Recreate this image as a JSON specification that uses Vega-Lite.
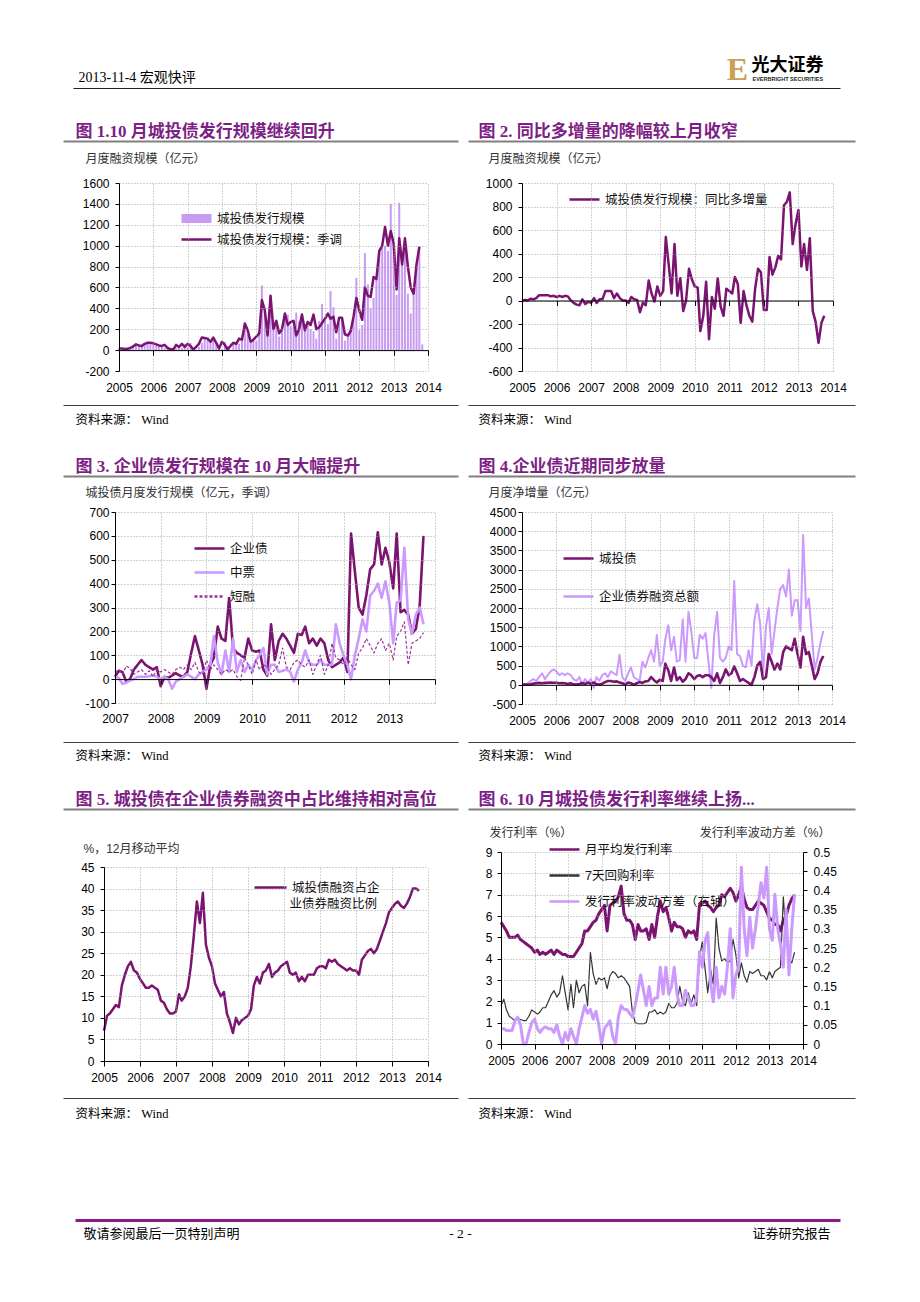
{
"$schema":"https://vega.github.io/schema/vega-lite/v6.json",
"width":920,"height":1302,"padding":0,"autosize":{"type":"none"},"background":"white",
"config":{
 "view":{"stroke":null},
 "axis":{"labelFont":"Liberation Sans","labelFontSize":12,"labelColor":"#000","labelOverlap":false,"labelFlush":false,"domainColor":"#000","tickColor":"#000","tickSize":4,"gridColor":"#a6a6a6","gridDash":[1,2],"gridWidth":1,"titleFont":"Liberation Sans, Noto Sans CJK SC","titleFontSize":12,"titleFontWeight":"normal","titleColor":"#333","titleAngle":0,"titleAlign":"left","titleBaseline":"middle","titleLimit":2000},
 "legend":{"orient":"none","labelFont":"Liberation Sans, Noto Sans CJK SC","labelFontSize":12.5,"labelColor":"#111","labelLimit":400,"padding":0,"symbolStrokeWidth":2.5,"symbolSize":900,"labelOffset":4,"rowPadding":1},
 "line":{"strokeJoin":"round"}
},
"datasets":{
"fr":[{"u":0},{"u":1}],
"m":[
{"d":"2005-01","b":20,"s":15,"y":0,"c":10,"t":0,"q":7,"r":5.7,"p":1.8,"v":0.04},
{"d":"2005-02","b":10,"s":15,"y":5,"c":5,"t":-10,"q":10.5,"r":5.5,"p":2.1,"v":0.04},
{"d":"2005-03","b":5,"s":10,"y":0,"c":5,"t":30,"q":11,"r":5.3,"p":1.6,"v":0.035},
{"d":"2005-04","b":15,"s":12,"y":15,"c":15,"t":100,"q":12,"r":5.0,"p":1.3,"v":0.035},
{"d":"2005-05","b":30,"s":20,"y":10,"c":30,"t":150,"q":13,"r":5.0,"p":1.2,"v":0.035},
{"d":"2005-06","b":45,"s":35,"y":20,"c":40,"t":100,"q":12.5,"r":5.0,"p":1.1,"v":0.06},
{"d":"2005-07","b":60,"s":55,"y":45,"c":50,"t":200,"q":17.5,"r":5.1,"p":1.2,"v":0.07},
{"d":"2005-08","b":40,"s":45,"y":45,"c":40,"t":300,"q":20,"r":4.9,"p":1.15,"v":0.05},
{"d":"2005-09","b":50,"s":40,"y":45,"c":50,"t":150,"q":22,"r":4.8,"p":1.1,"v":0},
{"d":"2005-10","b":60,"s":60,"y":45,"c":55,"t":250,"q":23,"r":4.7,"p":1.1,"v":0},
{"d":"2005-11","b":70,"s":70,"y":35,"c":60,"t":350,"q":21,"r":4.6,"p":1.3,"v":0.03},
{"d":"2005-12","b":60,"s":70,"y":40,"c":55,"t":400,"q":20.5,"r":4.5,"p":1.6,"v":0.055},
{"d":"2006-01","b":55,"s":65,"y":30,"c":55,"t":350,"q":19,"r":4.3,"p":1.5,"v":0.065},
{"d":"2006-02","b":40,"s":55,"y":40,"c":40,"t":250,"q":18,"r":4.4,"p":1.4,"v":0.04},
{"d":"2006-03","b":50,"s":45,"y":30,"c":45,"t":300,"q":17,"r":4.2,"p":1.5,"v":0.03},
{"d":"2006-04","b":45,"s":40,"y":40,"c":40,"t":250,"q":17,"r":4.3,"p":1.7,"v":0.04},
{"d":"2006-05","b":20,"s":50,"y":35,"c":20,"t":300,"q":17.5,"r":4.2,"p":1.7,"v":0.045},
{"d":"2006-06","b":40,"s":20,"y":0,"c":40,"t":250,"q":17,"r":4.3,"p":2.0,"v":0.04},
{"d":"2006-07","b":10,"s":10,"y":-20,"c":10,"t":150,"q":16.5,"r":4.4,"p":2.3,"v":0.04},
{"d":"2006-08","b":5,"s":5,"y":-35,"c":5,"t":100,"q":14,"r":4.2,"p":2.5,"v":0.03},
{"d":"2006-09","b":20,"s":50,"y":-40,"c":20,"t":200,"q":13.5,"r":4.4,"p":2.2,"v":0.05},
{"d":"2006-10","b":50,"s":30,"y":10,"c":45,"t":0,"q":12,"r":4.3,"p":2.4,"v":0.02},
{"d":"2006-11","b":20,"s":60,"y":-30,"c":20,"t":150,"q":11,"r":4.2,"p":3.2,"v":0},
{"d":"2006-12","b":60,"s":30,"y":-10,"c":55,"t":50,"q":11,"r":4.2,"p":2.4,"v":0.03},
{"d":"2007-01","b":30,"s":60,"y":-20,"c":30,"t":150,"q":11.5,"r":4.1,"p":1.6,"v":0.01,"e":10,"z":10,"f":30},
{"d":"2007-02","b":70,"s":40,"y":20,"c":60,"t":-80,"q":15.5,"r":4.1,"p":2.8,"v":0.04,"e":35,"z":5,"f":40},
{"d":"2007-03","b":20,"s":5,"y":-20,"c":20,"t":200,"q":14,"r":4.1,"p":1.7,"v":0.02,"e":30,"z":-20,"f":20},
{"d":"2007-04","b":5,"s":30,"y":10,"c":5,"t":100,"q":15,"r":4.3,"p":3.0,"v":0,"e":-10,"z":-15,"f":55},
{"d":"2007-05","b":30,"s":60,"y":10,"c":30,"t":250,"q":17,"r":4.5,"p":2.4,"v":0.04,"e":0,"z":-5,"f":45},
{"d":"2007-06","b":70,"s":120,"y":80,"c":70,"t":300,"q":22,"r":4.7,"p":2.7,"v":0.07,"e":40,"z":0,"f":20},
{"d":"2007-07","b":110,"s":115,"y":80,"c":100,"t":200,"q":29,"r":5.3,"p":2.8,"v":0.1,"e":60,"z":10,"f":30},
{"d":"2007-08","b":120,"s":110,"y":80,"c":100,"t":350,"q":37,"r":5.3,"p":1.8,"v":0.08,"e":80,"z":10,"f":40},
{"d":"2007-09","b":80,"s":80,"y":20,"c":80,"t":300,"q":32,"r":5.5,"p":4.3,"v":0.09,"e":60,"z":10,"f":20},
{"d":"2007-10","b":110,"s":120,"y":60,"c":90,"t":250,"q":39,"r":5.7,"p":3.3,"v":0.065,"e":50,"z":12,"f":35},
{"d":"2007-11","b":60,"s":70,"y":20,"c":60,"t":780,"q":27,"r":5.8,"p":2.8,"v":0.085,"e":40,"z":15,"f":10},
{"d":"2007-12","b":40,"s":15,"y":0,"c":40,"t":200,"q":24,"r":6.1,"p":3.1,"v":0.05,"e":50,"z":10,"f":40},
{"d":"2008-01","b":10,"s":80,"y":0,"c":10,"t":100,"q":22,"r":6.3,"p":3.0,"v":0,"e":-30,"z":0,"f":30},
{"d":"2008-02","b":80,"s":50,"y":-20,"c":60,"t":300,"q":18,"r":6.5,"p":3.1,"v":0.04,"e":10,"z":10,"f":40},
{"d":"2008-03","b":40,"s":5,"y":30,"c":40,"t":450,"q":16.5,"r":5.3,"p":2.6,"v":0.05,"e":5,"z":0,"f":30},
{"d":"2008-04","b":5,"s":40,"y":10,"c":5,"t":200,"q":15,"r":6.5,"p":3.2,"v":0.06,"e":15,"z":-40,"f":20},
{"d":"2008-05","b":50,"s":70,"y":5,"c":40,"t":150,"q":16,"r":6.6,"p":3.4,"v":0.02,"e":25,"z":-10,"f":40},
{"d":"2008-06","b":80,"s":60,"y":-100,"c":70,"t":100,"q":11,"r":6.7,"p":3.3,"v":0,"e":15,"z":0,"f":50},
{"d":"2008-07","b":60,"s":110,"y":-20,"c":50,"t":600,"q":9,"r":6.9,"p":3.1,"v":0.07,"e":10,"z":10,"f":40},
{"d":"2008-08","b":100,"s":100,"y":-40,"c":90,"t":450,"q":6.5,"r":7.4,"p":3.2,"v":0.1,"e":30,"z":20,"f":60},
{"d":"2008-09","b":250,"s":255,"y":170,"c":100,"t":700,"q":10,"r":6.1,"p":3.1,"v":0.09,"e":110,"z":10,"f":40},
{"d":"2008-10","b":150,"s":190,"y":60,"c":200,"t":900,"q":8.5,"r":5.8,"p":2.9,"v":0.09,"e":180,"z":0,"f":70},
{"d":"2008-11","b":70,"s":80,"y":-10,"c":120,"t":600,"q":9.5,"r":5.8,"p":2.7,"v":0.08,"e":120,"z":20,"f":30},
{"d":"2008-12","b":90,"s":100,"y":120,"c":60,"t":1300,"q":10,"r":5.6,"p":1.5,"v":0.07,"e":60,"z":30,"f":20},
{"d":"2009-01","b":90,"s":130,"y":40,"c":130,"t":500,"q":10.5,"r":4.9,"p":1.0,"v":0.1,"e":-40,"z":40,"f":80},
{"d":"2009-02","b":170,"s":160,"y":80,"c":100,"t":600,"q":12,"r":5.6,"p":0.95,"v":0.14,"e":60,"z":60,"f":40},
{"d":"2009-03","b":620,"s":480,"y":540,"c":550,"t":1200,"q":17.5,"r":5.3,"p":0.95,"v":0.18,"e":90,"z":180,"f":60},
{"d":"2009-04","b":400,"s":380,"y":300,"c":380,"t":1550,"q":19.5,"r":5.3,"p":0.95,"v":0.14,"e":220,"z":70,"f":40},
{"d":"2009-05","b":170,"s":140,"y":60,"c":100,"t":900,"q":18,"r":5.4,"p":1.0,"v":0.1,"e":170,"z":20,"f":20},
{"d":"2009-06","b":520,"s":520,"y":480,"c":450,"t":1250,"q":20.5,"r":4.9,"p":1.5,"v":0.15,"e":160,"z":120,"f":40},
{"d":"2009-07","b":190,"s":200,"y":40,"c":120,"t":600,"q":21,"r":5.6,"p":1.5,"v":0.1,"e":340,"z":30,"f":30},
{"d":"2009-08","b":250,"s":280,"y":190,"c":200,"t":650,"q":22.5,"r":5.0,"p":1.6,"v":0.12,"e":130,"z":170,"f":40},
{"d":"2009-09","b":130,"s":160,"y":-90,"c":80,"t":1700,"q":19.5,"r":6.0,"p":1.4,"v":0.12,"e":110,"z":30,"f":10},
{"d":"2009-10","b":200,"s":200,"y":0,"c":150,"t":600,"q":20.5,"r":6.7,"p":1.5,"v":0.2,"e":100,"z":80,"f":-5},
{"d":"2009-11","b":330,"s":350,"y":270,"c":300,"t":1900,"q":21,"r":6.2,"p":1.4,"v":0.13,"e":90,"z":30,"f":90},
{"d":"2009-12","b":340,"s":240,"y":180,"c":250,"t":1400,"q":22,"r":6.4,"p":1.5,"v":0.2,"e":170,"z":60,"f":60},
{"d":"2010-01","b":230,"s":270,"y":120,"c":150,"t":700,"q":22.5,"r":5.9,"p":1.9,"v":0.13,"e":120,"z":40,"f":20},
{"d":"2010-02","b":220,"s":280,"y":110,"c":230,"t":700,"q":23,"r":5.3,"p":1.7,"v":0.15,"e":115,"z":80,"f":80},
{"d":"2010-03","b":360,"s":140,"y":-260,"c":250,"t":1300,"q":20.5,"r":5.7,"p":1.7,"v":0.2,"e":120,"z":100,"f":40},
{"d":"2010-04","b":280,"s":200,"y":-130,"c":200,"t":1200,"q":20,"r":5.5,"p":1.9,"v":0.13,"e":40,"z":130,"f":60},
{"d":"2010-05","b":330,"s":340,"y":160,"c":250,"t":1350,"q":20.5,"r":5.5,"p":2.7,"v":0.1,"e":15,"z":20,"f":50},
{"d":"2010-06","b":250,"s":190,"y":-330,"c":250,"t":600,"q":18.5,"r":5.4,"p":2.0,"v":0.1,"e":230,"z":60,"f":20},
{"d":"2010-07","b":240,"s":270,"y":30,"c":200,"t":-80,"q":19.5,"r":5.0,"p":1.8,"v":0.14,"e":80,"z":60,"f":40},
{"d":"2010-08","b":200,"s":240,"y":-70,"c":100,"t":1300,"q":18.5,"r":5.3,"p":2.4,"v":0.12,"e":160,"z":30,"f":60},
{"d":"2010-09","b":180,"s":340,"y":190,"c":300,"t":1900,"q":20,"r":5.2,"p":1.9,"v":0.1,"e":190,"z":35,"f":130},
{"d":"2010-10","b":110,"s":200,"y":-50,"c":50,"t":700,"q":20,"r":5.3,"p":2.3,"v":0.1,"e":170,"z":40,"f":50},
{"d":"2010-11","b":280,"s":220,"y":-130,"c":200,"t":600,"q":20,"r":4.9,"p":1.8,"v":0.12,"e":140,"z":30,"f":40},
{"d":"2010-12","b":440,"s":260,"y":100,"c":400,"t":700,"q":21.5,"r":6.5,"p":4.0,"v":0.24,"e":110,"z":-10,"f":70},
{"d":"2011-01","b":300,"s":300,"y":80,"c":250,"t":1000,"q":22,"r":6.6,"p":4.8,"v":0.2,"e":190,"z":40,"f":80},
{"d":"2011-02","b":250,"s":350,"y":60,"c":300,"t":900,"q":22,"r":6.7,"p":3.5,"v":0.27,"e":185,"z":70,"f":60},
{"d":"2011-03","b":565,"s":300,"y":200,"c":480,"t":2700,"q":21.5,"r":6.5,"p":2.4,"v":0.29,"e":220,"z":120,"f":50},
{"d":"2011-04","b":410,"s":320,"y":140,"c":300,"t":800,"q":23.5,"r":6.4,"p":3.5,"v":0.16,"e":150,"z":70,"f":80},
{"d":"2011-05","b":110,"s":170,"y":-190,"c":100,"t":750,"q":23,"r":6.2,"p":2.8,"v":0.11,"e":170,"z":60,"f":20},
{"d":"2011-06","b":260,"s":310,"y":80,"c":150,"t":500,"q":23.5,"r":6.4,"p":5.9,"v":0.2,"e":140,"z":60,"f":60},
{"d":"2011-07","b":310,"s":310,"y":-40,"c":100,"t":450,"q":22.5,"r":6.5,"p":4.5,"v":0.12,"e":170,"z":80,"f":100},
{"d":"2011-08","b":90,"s":150,"y":-130,"c":50,"t":900,"q":22,"r":7.0,"p":3.9,"v":0.15,"e":150,"z":60,"f":20},
{"d":"2011-09","b":150,"s":140,"y":-180,"c":0,"t":500,"q":21.5,"r":6.9,"p":4.0,"v":0.13,"e":80,"z":60,"f":60},
{"d":"2011-10","b":200,"s":180,"y":100,"c":200,"t":1700,"q":21,"r":7.1,"p":3.8,"v":0.2,"e":50,"z":60,"f":150},
{"d":"2011-11","b":300,"s":320,"y":270,"c":500,"t":2100,"q":21.5,"r":7.3,"p":3.9,"v":0.3,"e":60,"z":230,"f":90},
{"d":"2011-12","b":690,"s":500,"y":240,"c":600,"t":1600,"q":21,"r":7.1,"p":4.9,"v":0.12,"e":70,"z":150,"f":80},
{"d":"2012-01","b":190,"s":380,"y":-80,"c":150,"t":300,"q":21,"r":6.7,"p":4.2,"v":0.18,"e":90,"z":100,"f":60},
{"d":"2012-02","b":240,"s":290,"y":-80,"c":200,"t":1500,"q":20,"r":7.0,"p":3.1,"v":0.2,"e":30,"z":60,"f":90},
{"d":"2012-03","b":930,"s":600,"y":370,"c":800,"t":2000,"q":23.5,"r":7.4,"p":3.8,"v":0.46,"e":610,"z":0,"f":60},
{"d":"2012-04","b":630,"s":520,"y":220,"c":600,"t":800,"q":24.5,"r":6.8,"p":3.2,"v":0.3,"e":450,"z":100,"f":40},
{"d":"2012-05","b":400,"s":510,"y":280,"c":400,"t":1400,"q":25.5,"r":6.4,"p":2.9,"v":0.23,"e":300,"z":170,"f":110},
{"d":"2012-06","b":500,"s":700,"y":380,"c":550,"t":2000,"q":26,"r":6.3,"p":3.4,"v":0.33,"e":270,"z":250,"f":130},
{"d":"2012-07","b":680,"s":680,"y":350,"c":400,"t":2500,"q":25,"r":6.3,"p":3.3,"v":0.25,"e":350,"z":200,"f":170},
{"d":"2012-08","b":940,"s":950,"y":810,"c":850,"t":2600,"q":26,"r":6.5,"p":3.4,"v":0.3,"e":460,"z":350,"f":140},
{"d":"2012-09","b":980,"s":1000,"y":840,"c":1000,"t":2300,"q":28,"r":6.7,"p":3.5,"v":0.36,"e":480,"z":370,"f":110},
{"d":"2012-10","b":1000,"s":1180,"y":920,"c":950,"t":3000,"q":30,"r":6.6,"p":3.2,"v":0.42,"e":615,"z":400,"f":150},
{"d":"2012-11","b":950,"s":1000,"y":480,"c":900,"t":1800,"q":32,"r":6.5,"p":3.2,"v":0.38,"e":480,"z":340,"f":170},
{"d":"2012-12","b":1400,"s":1140,"y":650,"c":1200,"t":2200,"q":34.5,"r":6.2,"p":3.0,"v":0.46,"e":550,"z":410,"f":120},
{"d":"2013-01","b":1020,"s":1020,"y":770,"c":800,"t":2200,"q":35.5,"r":5.9,"p":3.4,"v":0.3,"e":490,"z":320,"f":150},
{"d":"2013-02","b":530,"s":580,"y":290,"c":450,"t":1400,"q":36.5,"r":5.8,"p":3.1,"v":0.27,"e":380,"z":150,"f":80},
{"d":"2013-03","b":1410,"s":1070,"y":480,"c":1250,"t":3900,"q":37,"r":5.6,"p":3.4,"v":0.39,"e":610,"z":320,"f":180},
{"d":"2013-04","b":820,"s":820,"y":260,"c":800,"t":2000,"q":36,"r":5.6,"p":3.5,"v":0.3,"e":280,"z":330,"f":200},
{"d":"2013-05","b":1000,"s":1070,"y":530,"c":850,"t":2250,"q":35.5,"r":5.3,"p":3.6,"v":0.26,"e":290,"z":550,"f":240},
{"d":"2013-06","b":540,"s":800,"y":-90,"c":500,"t":1300,"q":36.5,"r":5.8,"p":6.9,"v":0.2,"e":270,"z":250,"f":60},
{"d":"2013-07","b":350,"s":600,"y":-180,"c":150,"t":400,"q":38,"r":6.0,"p":5.0,"v":0.35,"e":190,"z":190,"f":150},
{"d":"2013-08","b":560,"s":540,"y":-360,"c":300,"t":700,"q":40,"r":6.5,"p":4.0,"v":0.18,"e":210,"z":270,"f":160},
{"d":"2013-09","b":800,"s":820,"y":-190,"c":600,"t":1100,"q":40,"r":6.8,"p":3.8,"v":0.3,"e":310,"z":300,"f":170},
{"d":"2013-10","b":990,"s":990,"y":-130,"c":750,"t":1400,"q":39.5,"r":7.0,"p":4.3,"v":0.39,"e":600,"z":230,"f":195},
{"d":"2013-11","b":55}
]},
"data":{"name":"m"},
"resolve":{"scale":{"x":"independent","y":"independent","color":"independent","stroke":"independent","strokeDash":"independent"},"axis":{"x":"independent","y":"independent"},"legend":{"color":"independent","stroke":"independent","strokeDash":"independent"}},
"layer":[
{"data":{"name":"fr"},"mark":{"type":"point","opacity":0},"encoding":{
 "x":{"field":"u","type":"quantitative","scale":{"domain":[0,1],"range":[73,840],"nice":false},"axis":{"orient":"top","offset":-88,"domain":true,"domainColor":"#222","domainWidth":1.2,"labels":false,"ticks":false,"grid":false,"title":"2013-11-4 宏观快评","titleX":78,"titleY":-11,"titleFont":"Liberation Serif, Noto Sans CJK SC","titleFontSize":14,"titleColor":"#000"}},
 "y":{"field":"u","type":"quantitative","scale":{"domain":[0,1],"nice":false},"axis":{"orient":"left","offset":0,"domain":false,"labels":false,"ticks":false,"grid":false,"title":"光大证券","titleX":751,"titleY":65,"titleFont":"Noto Sans CJK SC","titleFontSize":18,"titleFontWeight":"bold","titleColor":"#000"}}}},
{"data":{"name":"fr"},"mark":{"type":"point","opacity":0},"encoding":{
 "x":{"field":"u","type":"quantitative","scale":{"domain":[0,1],"range":[0,10],"nice":false},"axis":{"orient":"top","offset":-78,"domain":false,"labels":false,"ticks":false,"grid":false,"title":"EVERBRIGHT SECURITIES","titleX":752,"titleY":0,"titleFont":"Liberation Sans","titleFontSize":5.5,"titleFontWeight":"bold","titleColor":"#222"}},
 "y":{"field":"u","type":"quantitative","scale":{"domain":[0,1],"nice":false},"axis":{"orient":"left","offset":0,"domain":false,"labels":false,"ticks":false,"grid":false,"title":"E","titleX":737,"titleY":69,"titleAlign":"center","titleFont":"Liberation Serif","titleFontSize":32,"titleFontWeight":"bold","titleColor":"#C8A152"}}}},
{"data":{"name":"fr"},"mark":{"type":"point","opacity":0},"encoding":{"x":{"field":"u","type":"quantitative","scale":{"domain":[0,1],"range":[63,458],"nice":false},"axis":{"orient":"top","offset":-141,"domain":true,"domainColor":"#808080","domainWidth":2,"labels":false,"ticks":false,"grid":false,"title":"图 1.10 月城投债发行规模继续回升","titleX":75,"titleY":-10,"titleFont":"Liberation Serif, Noto Sans CJK SC","titleFontSize":17,"titleFontWeight":"bold","titleColor":"#7D1F86"}}}},
{"data":{"name":"fr"},"mark":{"type":"point","opacity":0},"encoding":{"x":{"field":"u","type":"quantitative","scale":{"domain":[0,1],"range":[468,855],"nice":false},"axis":{"orient":"top","offset":-141,"domain":true,"domainColor":"#808080","domainWidth":2,"labels":false,"ticks":false,"grid":false,"title":"图 2. 同比多增量的降幅较上月收窄","titleX":478,"titleY":-10,"titleFont":"Liberation Serif, Noto Sans CJK SC","titleFontSize":17,"titleFontWeight":"bold","titleColor":"#7D1F86"}}}},
{"data":{"name":"fr"},"mark":{"type":"point","opacity":0},"encoding":{"x":{"field":"u","type":"quantitative","scale":{"domain":[0,1],"range":[63,458],"nice":false},"axis":{"orient":"top","offset":-476,"domain":true,"domainColor":"#808080","domainWidth":2,"labels":false,"ticks":false,"grid":false,"title":"图 3. 企业债发行规模在 10 月大幅提升","titleX":75,"titleY":-10,"titleFont":"Liberation Serif, Noto Sans CJK SC","titleFontSize":17,"titleFontWeight":"bold","titleColor":"#7D1F86"}}}},
{"data":{"name":"fr"},"mark":{"type":"point","opacity":0},"encoding":{"x":{"field":"u","type":"quantitative","scale":{"domain":[0,1],"range":[468,855],"nice":false},"axis":{"orient":"top","offset":-476,"domain":true,"domainColor":"#808080","domainWidth":2,"labels":false,"ticks":false,"grid":false,"title":"图 4.企业债近期同步放量","titleX":478,"titleY":-10,"titleFont":"Liberation Serif, Noto Sans CJK SC","titleFontSize":17,"titleFontWeight":"bold","titleColor":"#7D1F86"}}}},
{"data":{"name":"fr"},"mark":{"type":"point","opacity":0},"encoding":{"x":{"field":"u","type":"quantitative","scale":{"domain":[0,1],"range":[63,458],"nice":false},"axis":{"orient":"top","offset":-809,"domain":true,"domainColor":"#808080","domainWidth":2,"labels":false,"ticks":false,"grid":false,"title":"图 5. 城投债在企业债券融资中占比维持相对高位","titleX":75,"titleY":-10,"titleFont":"Liberation Serif, Noto Sans CJK SC","titleFontSize":17,"titleFontWeight":"bold","titleColor":"#7D1F86"}}}},
{"data":{"name":"fr"},"mark":{"type":"point","opacity":0},"encoding":{"x":{"field":"u","type":"quantitative","scale":{"domain":[0,1],"range":[468,855],"nice":false},"axis":{"orient":"top","offset":-809,"domain":true,"domainColor":"#808080","domainWidth":2,"labels":false,"ticks":false,"grid":false,"title":"图 6. 10 月城投债发行利率继续上扬...","titleX":478,"titleY":-10,"titleFont":"Liberation Serif, Noto Sans CJK SC","titleFontSize":17,"titleFontWeight":"bold","titleColor":"#7D1F86"}}}},
{"data":{"name":"fr"},"mark":{"type":"point","opacity":0},"encoding":{"x":{"field":"u","type":"quantitative","scale":{"domain":[0,1],"range":[63,458],"nice":false},"axis":{"orient":"top","offset":-405,"domain":true,"domainColor":"#404040","domainWidth":1,"labels":false,"ticks":false,"grid":false,"title":null}}}},
{"data":{"name":"fr"},"mark":{"type":"point","opacity":0},"encoding":{"x":{"field":"u","type":"quantitative","scale":{"domain":[0,1],"range":[468,855],"nice":false},"axis":{"orient":"top","offset":-405,"domain":true,"domainColor":"#404040","domainWidth":1,"labels":false,"ticks":false,"grid":false,"title":null}}}},
{"data":{"name":"fr"},"mark":{"type":"point","opacity":0},"encoding":{"x":{"field":"u","type":"quantitative","scale":{"domain":[0,1],"range":[63,458],"nice":false},"axis":{"orient":"top","offset":-742,"domain":true,"domainColor":"#404040","domainWidth":1,"labels":false,"ticks":false,"grid":false,"title":null}}}},
{"data":{"name":"fr"},"mark":{"type":"point","opacity":0},"encoding":{"x":{"field":"u","type":"quantitative","scale":{"domain":[0,1],"range":[468,855],"nice":false},"axis":{"orient":"top","offset":-742,"domain":true,"domainColor":"#404040","domainWidth":1,"labels":false,"ticks":false,"grid":false,"title":null}}}},
{"data":{"name":"fr"},"mark":{"type":"point","opacity":0},"encoding":{"x":{"field":"u","type":"quantitative","scale":{"domain":[0,1],"range":[63,458],"nice":false},"axis":{"orient":"top","offset":-1098,"domain":true,"domainColor":"#404040","domainWidth":1,"labels":false,"ticks":false,"grid":false,"title":"业债券融资比例","titleX":289,"titleY":-195,"titleFont":"Liberation Sans, Noto Sans CJK SC","titleFontSize":12.5,"titleColor":"#111"}}}},
{"data":{"name":"fr"},"mark":{"type":"point","opacity":0},"encoding":{"x":{"field":"u","type":"quantitative","scale":{"domain":[0,1],"range":[468,855],"nice":false},"axis":{"orient":"top","offset":-1098,"domain":true,"domainColor":"#404040","domainWidth":1,"labels":false,"ticks":false,"grid":false,"title":null}}}},
{"data":{"name":"fr"},"mark":{"type":"point","opacity":0},"encoding":{
 "x":{"field":"u","type":"quantitative","scale":{"domain":[0,1],"range":[75,840],"nice":false},"axis":{"orient":"top","offset":-1220,"domain":true,"domainColor":"#8B1A89","domainWidth":3,"labels":false,"ticks":false,"grid":false,"title":"敬请参阅最后一页特别声明","titleX":83,"titleY":13,"titleFont":"Liberation Serif, Noto Sans CJK SC","titleFontSize":13,"titleColor":"#000"}},
 "y":{"field":"u","type":"quantitative","scale":{"domain":[0,1],"nice":false},"axis":{"orient":"left","offset":0,"domain":false,"labels":false,"ticks":false,"grid":false,"title":"- 2 -","titleX":460,"titleY":1233,"titleAlign":"center","titleFont":"Liberation Serif","titleFontSize":13.5,"titleColor":"#000"}}}},
{"data":{"name":"fr"},"mark":{"type":"point","opacity":0},"encoding":{"x":{"field":"u","type":"quantitative","scale":{"domain":[0,1],"range":[0,10],"nice":false},"axis":{"orient":"top","offset":-1220,"domain":false,"labels":false,"ticks":false,"grid":false,"title":"证券研究报告","titleX":830,"titleY":13,"titleAlign":"right","titleFont":"Liberation Serif, Noto Sans CJK SC","titleFontSize":13,"titleColor":"#000"}}}},
{"layer":[
 {"mark":{"type":"bar","width":2},"encoding":{
  "x":{"field":"d","type":"temporal","scale":{"domain":[{"year":2005},{"year":2014}],"range":[119,428],"nice":false,"padding":0},"axis":{"orient":"top","offset":-350.11,"format":"%Y","tickCount":{"interval":"year","step":1},"tickSize":-5,"labelPadding":-31.9,"labelBaseline":"middle","grid":true,"zindex":1,"title":"资料来源：  Wind","titleX":75,"titleY":68.9,"titleFont":"Liberation Serif, Noto Sans CJK SC","titleFontSize":12.5,"titleColor":"#000"}},
  "y":{"field":"b","type":"quantitative","scale":{"domain":[-200,1600],"range":[371,183],"nice":false,"zero":false},"axis":{"orient":"left","offset":-119,"values":[-200,0,200,400,600,800,1000,1200,1400,1600],"labelExpr":"'' + datum.value","labelPadding":6,"grid":true,"zindex":1,"title":"月度融资规模（亿元）","titleX":-34,"titleY":158}},
  "color":{"datum":"城投债发行规模","scale":{"range":["#C89BF2"]},"legend":{"title":null,"legendX":180,"legendY":202,"symbolType":"M-1,-0.3H1V0.3H-1Z"}}}},
 {"transform":[{"filter":"isValid(datum.s)"}],"mark":{"type":"line","strokeWidth":2.5},"encoding":{
  "x":{"field":"d","type":"temporal","axis":{"orient":"top","offset":-350.11,"format":"%Y","tickCount":{"interval":"year","step":1},"tickSize":-5,"labelPadding":-31.9,"labelBaseline":"middle","grid":true,"zindex":1,"title":"资料来源：  Wind","titleX":75,"titleY":68.9,"titleFont":"Liberation Serif, Noto Sans CJK SC","titleFontSize":12.5,"titleColor":"#000"}},
  "y":{"field":"s","type":"quantitative","axis":{"orient":"left","offset":-119,"values":[-200,0,200,400,600,800,1000,1200,1400,1600],"labelExpr":"'' + datum.value","labelPadding":6,"grid":true,"zindex":1,"title":"月度融资规模（亿元）","titleX":-34,"titleY":158}},
  "stroke":{"datum":"城投债发行规模：季调","scale":{"range":["#7B1370"]},"legend":{"title":null,"legendX":180,"legendY":223,"symbolType":"stroke"}}}}
]},
{"transform":[{"filter":"isValid(datum.y)"}],"mark":{"type":"line","strokeWidth":2.5},"encoding":{
  "x":{"field":"d","type":"temporal","scale":{"domain":[{"year":2005},{"year":2014}],"range":[522,833],"nice":false},"axis":{"orient":"top","offset":-300.5,"format":"%Y","tickCount":{"interval":"year","step":1},"tickSize":-5,"labelPadding":-81.5,"labelBaseline":"middle","grid":true,"zindex":1,"title":"资料来源：  Wind","titleX":478,"titleY":118.5,"titleFont":"Liberation Serif, Noto Sans CJK SC","titleFontSize":12.5,"titleColor":"#000"}},
  "y":{"field":"y","type":"quantitative","scale":{"domain":[-600,1000],"range":[371,183],"nice":false,"zero":false},"axis":{"orient":"left","offset":-522,"values":[-600,-400,-200,0,200,400,600,800,1000],"labelExpr":"'' + datum.value","labelPadding":6,"grid":true,"zindex":1,"title":"月度融资规模（亿元）","titleX":-34,"titleY":158}},
  "stroke":{"datum":"城投债发行规模：同比多增量","scale":{"range":["#7B1370"]},"legend":{"title":null,"legendX":568,"legendY":183,"symbolType":"stroke"}}}},
{"transform":[{"fold":["e","z","f"],"as":["k","val"]},{"filter":"isValid(datum.val)"}],
 "layer":[
 {"transform":[{"filter":"datum.k != 'f'"}],"mark":{"type":"line","strokeWidth":2.6},"encoding":{
  "x":{"field":"d","type":"temporal","scale":{"domain":[{"year":2007},{"year":2014}],"range":[115,435],"nice":false},"axis":{"orient":"top","offset":-679.1,"format":"%Y","tickCount":{"interval":"year","step":1},"labelExpr":"datum.label == '2014' ? '' : datum.label","tickSize":-5,"labelPadding":-33.9,"labelBaseline":"middle","grid":true,"zindex":1,"title":"资料来源：  Wind","titleX":75,"titleY":75.9,"titleFont":"Liberation Serif, Noto Sans CJK SC","titleFontSize":12.5,"titleColor":"#000"}},
  "y":{"field":"val","type":"quantitative","scale":{"domain":[-100,700],"range":[703,512],"nice":false,"zero":false},"axis":{"orient":"left","offset":-115,"values":[-100,0,100,200,300,400,500,600,700],"labelExpr":"'' + datum.value","labelPadding":2,"grid":true,"zindex":1,"title":"城投债月度发行规模（亿元，季调）","titleX":-30,"titleY":492}},
  "color":{"field":"k","type":"nominal","scale":{"domain":["e","z","f"],"range":["#7B1370","#CC99FF","#993399"]},"legend":{"title":null,"legendX":193,"legendY":532,"symbolType":"stroke","rowPadding":1,"labelExpr":"datum.label == 'e' ? '企业债' : datum.label == 'z' ? '中票' : '短融'"}},
  "strokeDash":{"field":"k","type":"nominal","scale":{"domain":["e","z","f"],"range":[[1,0],[1,0],[3,2]]},"legend":{"title":null,"legendX":193,"legendY":532,"symbolType":"stroke","rowPadding":1,"labelExpr":"datum.label == 'e' ? '企业债' : datum.label == 'z' ? '中票' : '短融'"}}}},
 {"transform":[{"filter":"datum.k == 'f'"}],"mark":{"type":"line","strokeWidth":1.2},"encoding":{
  "x":{"field":"d","type":"temporal","axis":{"orient":"top","offset":-679.1,"format":"%Y","tickCount":{"interval":"year","step":1},"labelExpr":"datum.label == '2014' ? '' : datum.label","tickSize":-5,"labelPadding":-33.9,"labelBaseline":"middle","grid":true,"zindex":1,"title":"资料来源：  Wind","titleX":75,"titleY":75.9,"titleFont":"Liberation Serif, Noto Sans CJK SC","titleFontSize":12.5,"titleColor":"#000"}},
  "y":{"field":"val","type":"quantitative","axis":{"orient":"left","offset":-115,"values":[-100,0,100,200,300,400,500,600,700],"labelExpr":"'' + datum.value","labelPadding":2,"grid":true,"zindex":1,"title":"城投债月度发行规模（亿元，季调）","titleX":-30,"titleY":492}},
  "color":{"field":"k","type":"nominal"},
  "strokeDash":{"field":"k","type":"nominal"}}}
]},
{"transform":[{"fold":["c","t"],"as":["k","val"]},{"filter":"isValid(datum.val)"}],
 "layer":[
 {"transform":[{"filter":"datum.k == 't'"}],"mark":{"type":"line","strokeWidth":2},"encoding":{
  "x":{"field":"d","type":"temporal","scale":{"domain":[{"year":2005},{"year":2014}],"range":[522,832],"nice":false},"axis":{"orient":"top","offset":-684.8,"format":"%Y","tickCount":{"interval":"year","step":1},"tickSize":-5,"labelPadding":-30.2,"labelBaseline":"middle","grid":true,"zindex":1,"title":"资料来源：  Wind","titleX":478,"titleY":70.2,"titleFont":"Liberation Serif, Noto Sans CJK SC","titleFontSize":12.5,"titleColor":"#000"}},
  "y":{"field":"val","type":"quantitative","scale":{"domain":[-500,4500],"range":[704,512],"nice":false,"zero":false},"axis":{"orient":"left","offset":-522,"values":[-500,0,500,1000,1500,2000,2500,3000,3500,4000,4500],"labelExpr":"'' + datum.value","labelPadding":2,"grid":true,"zindex":1,"title":"月度净增量（亿元）","titleX":-34,"titleY":492}},
  "color":{"field":"k","type":"nominal","scale":{"domain":["c","t"],"range":["#7B1370","#CC99FF"]},"legend":{"title":null,"legendX":562,"legendY":542,"symbolType":"stroke","rowPadding":15,"labelExpr":"datum.label == 'c' ? '城投债' : '企业债券融资总额'"}}}},
 {"transform":[{"filter":"datum.k == 'c'"}],"mark":{"type":"line","strokeWidth":2.6},"encoding":{
  "x":{"field":"d","type":"temporal","axis":{"orient":"top","offset":-684.8,"format":"%Y","tickCount":{"interval":"year","step":1},"tickSize":-5,"labelPadding":-30.2,"labelBaseline":"middle","grid":true,"zindex":1,"title":"资料来源：  Wind","titleX":478,"titleY":70.2,"titleFont":"Liberation Serif, Noto Sans CJK SC","titleFontSize":12.5,"titleColor":"#000"}},
  "y":{"field":"val","type":"quantitative","axis":{"orient":"left","offset":-522,"values":[-500,0,500,1000,1500,2000,2500,3000,3500,4000,4500],"labelExpr":"'' + datum.value","labelPadding":2,"grid":true,"zindex":1,"title":"月度净增量（亿元）","titleX":-34,"titleY":492}},
  "color":{"field":"k","type":"nominal"}}}
]},
{"transform":[{"filter":"isValid(datum.q)"}],"mark":{"type":"line","strokeWidth":2.5},"encoding":{
  "x":{"field":"d","type":"temporal","scale":{"domain":[{"year":2005},{"year":2014}],"range":[104,428],"nice":false},"axis":{"orient":"top","offset":-1061,"format":"%Y","tickCount":{"interval":"year","step":1},"tickSize":-5,"labelPadding":-11,"labelBaseline":"middle","grid":true,"zindex":1,"title":"资料来源：  Wind","titleX":75,"titleY":52,"titleFont":"Liberation Serif, Noto Sans CJK SC","titleFontSize":12.5,"titleColor":"#000"}},
  "y":{"field":"q","type":"quantitative","scale":{"domain":[0,45],"range":[1061,867],"nice":false},"axis":{"orient":"left","offset":-104,"values":[0,5,10,15,20,25,30,35,40,45],"labelExpr":"'' + datum.value","labelPadding":6,"grid":true,"zindex":1,"title":"%，12月移动平均","titleX":-21,"titleY":848}},
  "stroke":{"datum":"城投债融资占企","scale":{"range":["#7B1370"]},"legend":{"title":null,"legendX":253,"legendY":870,"symbolType":"stroke","symbolSize":1024}}}},
{"transform":[{"filter":"isValid(datum.r)"}],
 "resolve":{"scale":{"y":"independent"}},
 "layer":[
 {"layer":[
  {"mark":{"type":"line","strokeWidth":3},"encoding":{
   "x":{"field":"d","type":"temporal","scale":{"domain":[{"year":2005},{"year":2014}],"range":[501,803],"nice":false},"axis":{"orient":"top","offset":-1044,"format":"%Y","tickCount":{"interval":"year","step":1},"tickSize":-5,"labelPadding":-11,"labelBaseline":"middle","grid":true,"zindex":1,"title":"资料来源：  Wind","titleX":478,"titleY":69,"titleFont":"Liberation Serif, Noto Sans CJK SC","titleFontSize":12.5,"titleColor":"#000"}},
   "y":{"field":"r","type":"quantitative","scale":{"domain":[0,9],"range":[1044,852],"nice":false},"axis":{"orient":"left","offset":-501,"values":[0,1,2,3,4,5,6,7,8,9],"labelExpr":"'' + datum.value","labelPadding":5,"grid":true,"zindex":1,"title":"发行利率（%）","titleX":-12,"titleY":832}},
   "color":{"datum":"r","scale":{"domain":["r","p","v"],"range":["#7B1370","#333333","#CC99FF"]},"legend":{"title":null,"legendX":548,"legendY":833,"symbolType":"stroke","rowPadding":3,"labelExpr":"datum.label == 'r' ? '月平均发行利率' : datum.label == 'p' ? '7天回购利率' : '发行利率波动方差（右轴）'"}}}},
  {"mark":{"type":"line","strokeWidth":1.2},"encoding":{
   "x":{"field":"d","type":"temporal","axis":{"orient":"top","offset":-1044,"format":"%Y","tickCount":{"interval":"year","step":1},"tickSize":-5,"labelPadding":-11,"labelBaseline":"middle","grid":true,"zindex":1,"title":"资料来源：  Wind","titleX":478,"titleY":69,"titleFont":"Liberation Serif, Noto Sans CJK SC","titleFontSize":12.5,"titleColor":"#000"}},
   "y":{"field":"p","type":"quantitative","axis":{"orient":"left","offset":-501,"values":[0,1,2,3,4,5,6,7,8,9],"labelExpr":"'' + datum.value","labelPadding":5,"grid":true,"zindex":1,"title":"发行利率（%）","titleX":-12,"titleY":832}},
   "color":{"datum":"p"}}}
 ]},
 {"mark":{"type":"line","strokeWidth":3},"encoding":{
   "x":{"field":"d","type":"temporal","axis":{"orient":"top","offset":-1044,"format":"%Y","tickCount":{"interval":"year","step":1},"tickSize":-5,"labelPadding":-11,"labelBaseline":"middle","grid":true,"zindex":1,"title":"资料来源：  Wind","titleX":478,"titleY":69,"titleFont":"Liberation Serif, Noto Sans CJK SC","titleFontSize":12.5,"titleColor":"#000"}},
   "y":{"field":"v","type":"quantitative","scale":{"domain":[0,0.5],"range":[1044,852],"nice":false},"axis":{"orient":"right","offset":-117,"values":[0,0.05,0.1,0.15,0.2,0.25,0.3,0.35,0.4,0.45,0.5],"labelExpr":"'' + datum.value","labelPadding":6,"grid":false,"zindex":1,"title":"发行利率波动方差（%）","titleX":27,"titleY":832,"titleAlign":"right"}},
   "color":{"datum":"v"}}}
]}
]
}
